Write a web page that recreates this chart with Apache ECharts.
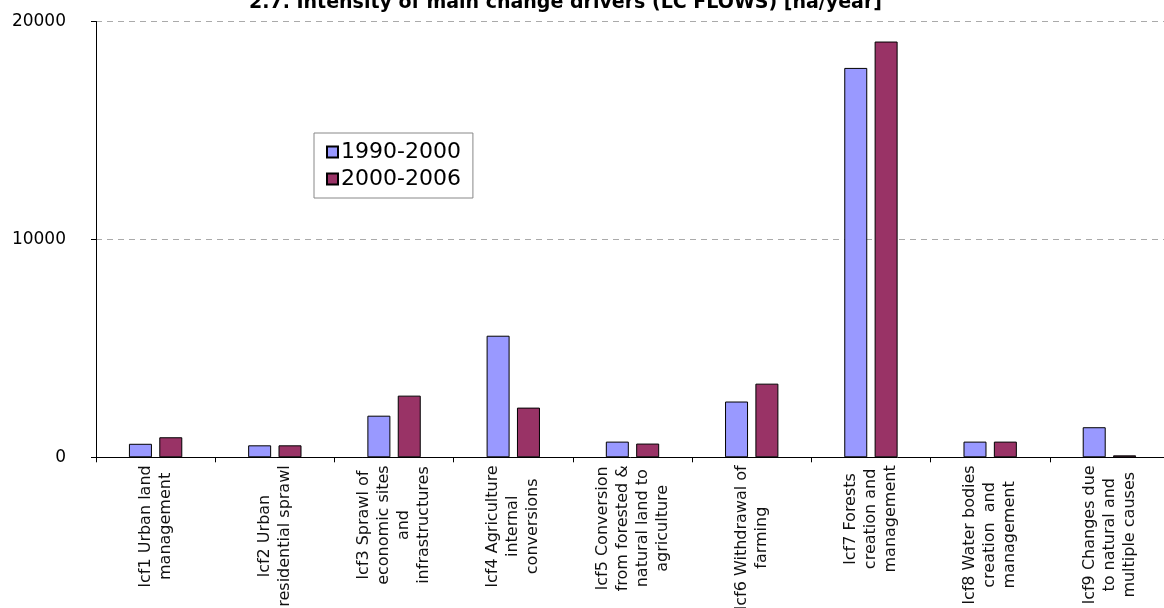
<!DOCTYPE html>
<html>
<head>
<meta charset="utf-8">
<script src="https://cdn.jsdelivr.net/npm/echarts@6/dist/echarts.min.js"></script>
<style>
html,body{margin:0;padding:0;background:#fff;}
#chart{width:1164px;height:608px;}
</style>
</head>
<body>
<div id="chart"></div>
<script>
const categories = [
  "lcf1 Urban land\nmanagement",
  "lcf2 Urban\nresidential sprawl",
  "lcf3 Sprawl of\neconomic sites\nand\ninfrastructures",
  "lcf4 Agriculture\ninternal\nconversions",
  "lcf5 Conversion\nfrom forested &\nnatural land to\nagriculture",
  "lcf6 Withdrawal of\nfarming",
  "lcf7 Forests\ncreation and\nmanagement",
  "lcf8 Water bodies\ncreation  and\nmanagement",
  "lcf9 Changes due\nto natural and\nmultiple causes"
];
const seriesNames = ["1990-2000", "2000-2006"];
const values1990_2000 = [620, 550, 1910, 5580, 720, 2560, 17870, 720, 1380];
const values2000_2006 = [920, 550, 2830, 2280, 630, 3380, 19080, 720, 90];
const yTicks = [0, 10000, 20000];

const FONT = "DejaVu Sans";
const chart = echarts.init(document.getElementById('chart'), null, {renderer: 'canvas'});
const option = {
  backgroundColor: '#ffffff',
  animation: false,
  title: {
    text: "2.7. Intensity of main change drivers (LC FLOWS) [ha/year]",
    left: 244,
    top: -11,
    textStyle: {fontFamily: FONT, fontWeight: 'bold', fontSize: 19, color: '#000'}
  },
  legend: {
    orient: 'vertical',
    left: 314,
    top: 133,
    itemWidth: 11,
    itemHeight: 11,
    itemGap: 5,
    padding: [8, 12, 8, 12],
    borderColor: '#888',
    borderWidth: 1,
    icon: 'rect',
    textStyle: {fontFamily: FONT, fontSize: 22, color: '#000', padding: [0, 0, 0, -2]},
    data: seriesNames
  },
  grid: {left: 96, top: 21.5, width: 1073, bottom: 150.7, containLabel: false, outerBoundsMode: 'none'},
  xAxis: {
    type: 'category',
    data: categories,
    boundaryGap: true,
    axisLine: {lineStyle: {color: '#000', width: 1}},
    axisTick: {show: true, length: 5, alignWithLabel: false, lineStyle: {color: '#000'}},
    axisLabel: {
      rotate: 90,
      interval: 0,
      margin: 8,
      color: '#000',
      fontFamily: FONT,
      fontSize: 16,
      lineHeight: 20,
      formatter: function (v) {
        return v.split('\n').map(function (l) { return '{c|' + l + '}'; }).join('\n');
      },
      rich: {c: {align: 'center', fontFamily: FONT, fontSize: 16, lineHeight: 20, color: '#111'}}
    }
  },
  yAxis: {
    type: 'value',
    min: 0,
    max: 20000,
    interval: 10000,
    axisLine: {show: true, lineStyle: {color: '#000', width: 1}},
    axisTick: {show: true, length: 5, lineStyle: {color: '#000'}},
    axisLabel: {
      margin: 30,
      color: '#000',
      fontFamily: FONT,
      fontSize: 17,
      formatter: function (v) { return yTicks.indexOf(v) >= 0 ? String(v) : ''; }
    },
    splitLine: {show: true, lineStyle: {color: '#aaa', type: [6, 5], width: 1}}
  },
  series: [
    {
      name: seriesNames[0],
      type: 'bar',
      data: values1990_2000,
      barWidth: 23,
      barGap: '32%',
      itemStyle: {color: '#9999FF', borderColor: '#000', borderWidth: 1}
    },
    {
      name: seriesNames[1],
      type: 'bar',
      data: values2000_2006,
      barWidth: 23,
      itemStyle: {color: '#993366', borderColor: '#000', borderWidth: 1}
    }
  ]
};
chart.setOption(option);
</script>
</body>
</html>
